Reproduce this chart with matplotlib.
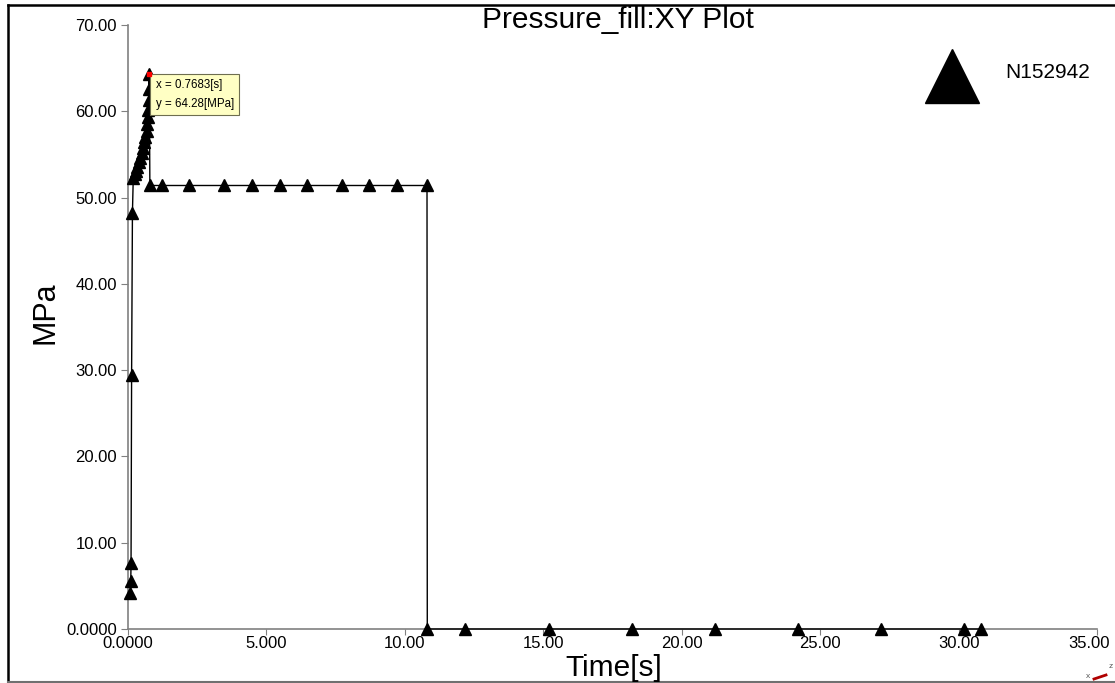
import matplotlib
matplotlib.use("Agg")
import matplotlib.pyplot as plt
from matplotlib.lines import Line2D
from matplotlib.transforms import ScaledTranslation

plt.rcParams['font.family'] = ['Liberation Sans', 'DejaVu Sans']

# Node N152942 pressure history during fill
time_s = [0.09, 0.10, 0.11, 0.13, 0.16,
          0.19, 0.24, 0.29, 0.34, 0.39, 0.44, 0.49, 0.54, 0.59, 0.63,
          0.67, 0.70, 0.72, 0.735, 0.745, 0.755, 0.7683,
          0.79, 1.23, 2.20, 3.47, 4.48, 5.49, 6.46, 7.73, 8.70, 9.71, 10.80,
          10.81, 12.17, 15.20, 18.20, 21.20, 24.20, 27.20, 30.20, 30.80]
pressure_mpa = [4.2, 5.6, 7.6, 29.4, 48.2,
                52.3, 52.7, 53.1, 53.6, 54.1, 54.6, 55.2, 55.8, 56.4, 57.0,
                57.7, 58.5, 59.3, 60.2, 61.3, 62.6, 64.28,
                51.4, 51.4, 51.4, 51.4, 51.4, 51.4, 51.4, 51.4, 51.4, 51.4, 51.4,
                0.0, 0.0, 0.0, 0.0, 0.0, 0.0, 0.0, 0.0, 0.0]

x_ticks = [0, 5, 10, 15, 20, 25, 30, 35]
x_tick_labels = ["0.0000", "5.000", "10.00", "15.00", "20.00", "25.00", "30.00", "35.00"]
y_ticks = [0, 10, 20, 30, 40, 50, 60, 70]
y_tick_labels = ["0.0000", "10.00", "20.00", "30.00", "40.00", "50.00", "60.00", "70.00"]

probe_t = 0.7683
probe_p = 64.28
node_name = "N152942"

W, H = 1115, 683
fig = plt.figure(figsize=(W / 100, H / 100), dpi=100)
fig.patch.set_facecolor("white")


def fx(px):
    return px / W


def fy(py):
    return 1 - py / H


# outer frame: black top/left, grey bottom
fig.lines.append(Line2D([fx(8), fx(8)], [fy(682), fy(5)], color="black",
                        linewidth=1.8, transform=fig.transFigure))
fig.lines.append(Line2D([fx(8), fx(1120)], [fy(5), fy(5)], color="black",
                        linewidth=1.8, transform=fig.transFigure))
fig.lines.append(Line2D([fx(8), fx(1120)], [fy(681.5), fy(681.5)], color="#707070",
                        linewidth=1.5, transform=fig.transFigure))

ax = fig.add_axes([fx(128), fy(629), (1097 - 128) / W, (629 - 25) / H])
ax.set_xlim(0, 35)
ax.set_ylim(0, 70)

ax.plot(time_s, pressure_mpa, color="black", linewidth=1.0, marker="^",
        markersize=9, markerfacecolor="black", markeredgecolor="black",
        clip_on=False, zorder=3)

for side in ("top", "right"):
    ax.spines[side].set_visible(False)
for side in ("left", "bottom"):
    ax.spines[side].set_color("#808080")
    ax.spines[side].set_linewidth(1.2)

ax.set_xticks(x_ticks)
ax.set_xticklabels(x_tick_labels)
ax.set_yticks(y_ticks)
ax.set_yticklabels(y_tick_labels)
ax.tick_params(axis="both", colors="#808080", labelcolor="black", labelsize=12)
ax.tick_params(axis="x", length=4, pad=1)
ax.tick_params(axis="y", length=5, pad=3)

# keep the last x label inside the frame
last = ax.get_xticklabels()[-1]
last.set_transform(last.get_transform() + ScaledTranslation(-8 / 100, 0, fig.dpi_scale_trans))

fig.text(0.5545, fy(20), "Pressure_fill:XY Plot", fontsize=21.5,
         ha="center", va="center")
fig.text(fx(45), fy(313), "MPa", fontsize=22, rotation=90,
         ha="center", va="center")
fig.text(fx(614), fy(676), "Time[s]", fontsize=21.5, ha="center", va="baseline")

# legend
fig.lines.append(Line2D([fx(952)], [fy(76)], marker="^", markersize=39,
                        color="black", transform=fig.transFigure))
fig.text(fx(1005), fy(73), node_name, fontsize=15, ha="left", va="center")

# probe readout
ax.plot([probe_t], [probe_p], marker="s", markersize=3, color="red",
        zorder=7, clip_on=False)
ax.annotate(f"x = {probe_t:.4f}[s]\ny = {probe_p:.2f}[MPa]",
            xy=(probe_t, probe_p), xytext=(4.5, -3.5), textcoords="offset points",
            fontsize=8.3, ha="left", va="top", linespacing=1.75,
            bbox=dict(boxstyle="square,pad=0.45", facecolor="#FFFFC4",
                      edgecolor="#6E6E50", linewidth=0.8),
            zorder=6)

# small view-axis glyph
fig.text(fx(1088), fy(677), "x", fontsize=6, color="#555555", ha="center", va="center")
fig.text(fx(1111), fy(666), "z", fontsize=6, color="#555555", ha="center", va="center")
fig.lines.append(Line2D([fx(1094), fx(1106)], [fy(679), fy(675)],
                        color="#B00000", linewidth=2, transform=fig.transFigure))

fig.savefig("out.png", dpi=100)
